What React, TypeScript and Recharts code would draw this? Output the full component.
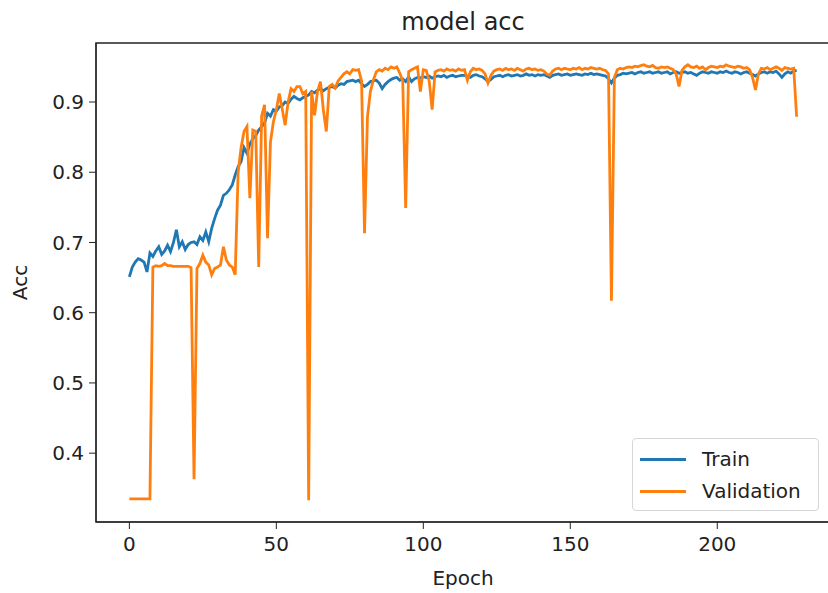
import { LineChart, Line, XAxis, YAxis, ReferenceArea, Label } from 'recharts'

const epochs = Array.from({ length: 228 }, (_, i) => i)

const train = [
  0.651, 0.665, 0.672, 0.677, 0.675, 0.672, 0.658, 0.685, 0.68, 0.688,
  0.694, 0.683, 0.688, 0.696, 0.687, 0.7, 0.718, 0.694, 0.701, 0.69,
  0.697, 0.7, 0.701, 0.697, 0.708, 0.703, 0.715, 0.701, 0.72, 0.734,
  0.746, 0.753, 0.767, 0.77, 0.775, 0.782, 0.796, 0.808, 0.815, 0.835,
  0.827, 0.84, 0.848, 0.852, 0.86, 0.865, 0.87, 0.884, 0.88, 0.889,
  0.887, 0.893, 0.895, 0.9, 0.898, 0.904, 0.908, 0.905, 0.903, 0.906,
  0.908, 0.91, 0.915, 0.913, 0.917, 0.919, 0.916, 0.919, 0.921, 0.922,
  0.92, 0.924, 0.926, 0.925, 0.929, 0.93, 0.931, 0.929, 0.931, 0.926,
  0.922, 0.925, 0.929, 0.93, 0.931, 0.927, 0.919, 0.925, 0.929, 0.932,
  0.934, 0.935, 0.931, 0.933, 0.929, 0.936, 0.929, 0.933, 0.935, 0.934,
  0.936, 0.935, 0.937, 0.934, 0.936, 0.937, 0.936, 0.938, 0.935, 0.937,
  0.938, 0.936, 0.937, 0.938, 0.938, 0.937, 0.935, 0.938, 0.939, 0.937,
  0.936, 0.933, 0.929, 0.932, 0.936, 0.937, 0.938, 0.936, 0.938, 0.939,
  0.937, 0.938, 0.939, 0.937, 0.938, 0.94, 0.938, 0.939, 0.937, 0.939,
  0.938, 0.939, 0.937, 0.935, 0.938, 0.939, 0.94, 0.938, 0.939, 0.94,
  0.938, 0.939, 0.94, 0.939, 0.938, 0.94, 0.939, 0.941, 0.939, 0.94,
  0.939, 0.938, 0.937, 0.933, 0.927, 0.934, 0.938, 0.939, 0.941, 0.94,
  0.941, 0.942, 0.94, 0.942, 0.943, 0.941, 0.942, 0.943, 0.941, 0.942,
  0.943, 0.941, 0.942, 0.943, 0.94, 0.942, 0.943, 0.941, 0.942, 0.943,
  0.941, 0.942, 0.94, 0.938, 0.941, 0.943, 0.942, 0.941, 0.943, 0.942,
  0.941, 0.943, 0.942, 0.944, 0.942, 0.941, 0.943, 0.942, 0.94, 0.942,
  0.943, 0.941, 0.939, 0.937, 0.94, 0.942, 0.943, 0.941, 0.943, 0.942,
  0.944, 0.94, 0.935, 0.94, 0.943, 0.941, 0.944, 0.945,
]

const validation = [
  0.335, 0.335, 0.335, 0.335, 0.335, 0.335, 0.335, 0.335, 0.665, 0.667,
  0.666, 0.667, 0.67, 0.667, 0.667, 0.666, 0.666, 0.666, 0.666, 0.666,
  0.666, 0.664, 0.363, 0.663, 0.67, 0.682, 0.672, 0.668, 0.654, 0.663,
  0.665, 0.668, 0.694, 0.675, 0.668, 0.665, 0.654, 0.8, 0.835, 0.858,
  0.865, 0.763, 0.86, 0.858, 0.665, 0.88, 0.896, 0.706, 0.843, 0.872,
  0.889, 0.912, 0.89, 0.867, 0.9, 0.919, 0.915, 0.922, 0.922, 0.912,
  0.915, 0.333, 0.915, 0.881, 0.915, 0.929, 0.889, 0.858, 0.922, 0.925,
  0.92, 0.93, 0.935, 0.94, 0.943, 0.94, 0.946, 0.945, 0.946, 0.93,
  0.713, 0.879, 0.915, 0.931, 0.943, 0.946, 0.944, 0.948, 0.946, 0.95,
  0.948, 0.95, 0.941, 0.93, 0.749, 0.943, 0.946, 0.948, 0.95, 0.915,
  0.946, 0.945, 0.93, 0.889, 0.943, 0.945, 0.946, 0.944, 0.947, 0.945,
  0.946, 0.944, 0.947, 0.945, 0.946, 0.931, 0.943, 0.948, 0.946, 0.947,
  0.945, 0.94, 0.927, 0.938, 0.944, 0.946, 0.947, 0.945, 0.948, 0.946,
  0.947, 0.945, 0.948, 0.946, 0.944, 0.947, 0.948, 0.946, 0.947, 0.945,
  0.946, 0.944, 0.94, 0.938, 0.944, 0.947, 0.948, 0.946, 0.948, 0.947,
  0.946, 0.948, 0.947, 0.949, 0.946, 0.948, 0.947, 0.949, 0.948, 0.947,
  0.948, 0.946, 0.945, 0.94, 0.617, 0.935, 0.946, 0.948, 0.947, 0.949,
  0.95, 0.949, 0.951, 0.95, 0.952, 0.953, 0.951, 0.95, 0.952, 0.949,
  0.948, 0.95, 0.949, 0.95, 0.948, 0.946, 0.94, 0.922, 0.945, 0.95,
  0.953, 0.95, 0.949, 0.951, 0.948, 0.95, 0.946, 0.949, 0.951, 0.95,
  0.949, 0.951, 0.95, 0.953, 0.951, 0.95, 0.949, 0.951, 0.95, 0.948,
  0.949, 0.946, 0.935, 0.917, 0.94, 0.948, 0.947, 0.949, 0.946, 0.948,
  0.95, 0.948, 0.945, 0.949, 0.948, 0.947, 0.948, 0.879,
]

const xTicks = [0, 50, 100, 150, 200]
const yTicks = [0.4, 0.5, 0.6, 0.7, 0.8, 0.9]
const xDomain = [-11.35, 238.35]
const yDomain = [0.302, 0.984]

const series = [
  { key: 'train', name: 'Train', color: '#1f77b4' },
  { key: 'val', name: 'Validation', color: '#ff7f0e' },
]

const data = epochs.map((e, i) => ({ epoch: e, train: train[i], val: validation[i] }))

const font = 'DejaVu Sans, sans-serif'
const tickStyle = { fontSize: 20, fill: '#222', fontFamily: font }

function LegendBox() {
  return (
    <div
      style={{
        position: 'absolute',
        left: 632,
        top: 438,
        width: 187,
        height: 73,
        border: '1px solid #d6d6d6',
        borderRadius: 4,
        background: 'rgba(255,255,255,0.8)',
        fontFamily: font,
        fontSize: 20,
        color: '#222',
        boxSizing: 'border-box',
        paddingTop: 4,
      }}
    >
      {series.map((s) => (
        <div key={s.key} style={{ display: 'flex', alignItems: 'center', height: 32 }}>
          <div style={{ width: 46, height: 3, background: s.color, marginLeft: 7, marginRight: 16 }} />
          <span>{s.name}</span>
        </div>
      ))}
    </div>
  )
}

export default function App() {
  return (
    <div style={{ position: 'absolute', left: 0, top: 0, width: 828, height: 593, overflow: 'hidden', background: '#fff' }}>
      <div
        style={{
          position: 'absolute',
          left: 0,
          width: 926,
          top: 7,
          textAlign: 'center',
          fontFamily: font,
          fontSize: 24,
          color: '#222',
          lineHeight: '30px',
        }}
      >
        model acc
      </div>
      <LineChart width={830} height={593} data={data} margin={{ top: 43, right: 0, left: 0, bottom: 0 }}>
        <XAxis
          dataKey="epoch"
          type="number"
          domain={xDomain}
          ticks={xTicks}
          allowDataOverflow
          height={71}
          tickSize={7}
          stroke="#222"
          tick={tickStyle}
          tickMargin={8}
        >
          <Label value="Epoch" position="insideBottom" offset={8} style={{ fontSize: 20, fill: '#222', fontFamily: font }} />
        </XAxis>
        <YAxis
          type="number"
          domain={yDomain}
          ticks={yTicks}
          allowDataOverflow
          width={96}
          tickSize={7}
          stroke="#222"
          tick={tickStyle}
          tickMargin={5}
          tickFormatter={(v: number) => v.toFixed(1)}
        >
          <Label
            value="Acc"
            angle={-90}
            position="insideLeft"
            offset={20}
            style={{ fontSize: 20, fill: '#222', fontFamily: font, textAnchor: 'middle' }}
          />
        </YAxis>
        <ReferenceArea x1={xDomain[0]} x2={xDomain[1]} y1={yDomain[0]} y2={yDomain[1]} fill="none" stroke="#222" strokeWidth={1.5} ifOverflow="visible" />
        {series.map((s) => (
          <Line
            key={s.key}
            dataKey={s.key}
            name={s.name}
            type="linear"
            stroke={s.color}
            strokeWidth={2.8}
            dot={false}
            isAnimationActive={false}
          />
        ))}
      </LineChart>
      <LegendBox />
    </div>
  )
}
